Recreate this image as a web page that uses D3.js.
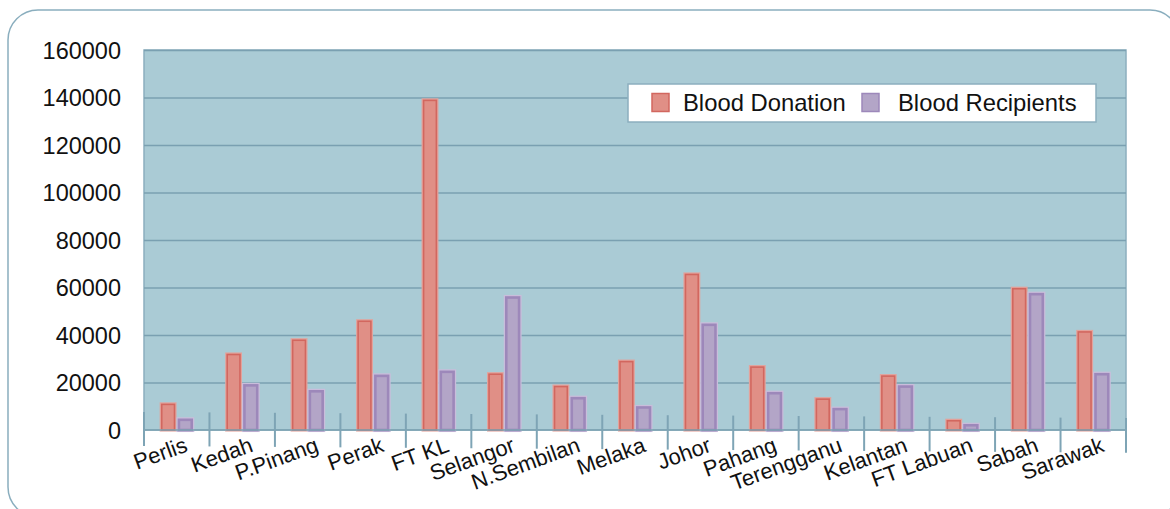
<!DOCTYPE html>
<html>
<head>
<meta charset="utf-8">
<script src="https://cdn.jsdelivr.net/npm/d3@7"></script>
<style>
  html, body { margin: 0; padding: 0; background: #ffffff; overflow: hidden; }
  svg { display: block; font-family: "Liberation Sans", Arial, sans-serif; }
</style>
</head>
<body>
<svg id="chart" width="1170" height="509"></svg>
<script>
const categories = ["Perlis", "Kedah", "P.Pinang", "Perak", "FT KL", "Selangor", "N.Sembilan", "Melaka", "Johor", "Pahang", "Terengganu", "Kelantan", "FT Labuan", "Sabah", "Sarawak"];
const donation = [11000, 32000, 38000, 46000, 139000, 23700, 18500, 29000, 65700, 26700, 13200, 22900, 4100, 59700, 41500];
const recipients = [4500, 19000, 16500, 23000, 24700, 56000, 13600, 9700, 44500, 15700, 9000, 18500, 2200, 57400, 23700];
const seriesNames = ["Blood Donation", "Blood Recipients"];
const yTicks = [0, 20000, 40000, 60000, 80000, 100000, 120000, 140000, 160000];

const svg = d3.select("#chart");
const pLeft = 144, pRight = 1126, pTop = 50, pBottom = 430;

// outer rounded frame
svg.append("rect")
  .attr("x", 8).attr("y", 10).attr("width", 1172).attr("height", 507)
  .attr("rx", 30).attr("ry", 30)
  .attr("fill", "none").attr("stroke", "#8aaebe").attr("stroke-width", 1.5);

const x = d3.scaleBand().domain(categories).range([pLeft, pRight]).paddingInner(0).paddingOuter(0);
const x1 = d3.scaleBand().domain(seriesNames).range([0, x.bandwidth()]).paddingInner(0.2).paddingOuter(1.0);
const y = d3.scaleLinear().domain([0, 160000]).range([pBottom, pTop]);

// plot background
svg.append("rect")
  .attr("x", pLeft).attr("y", pTop).attr("width", pRight - pLeft).attr("height", pBottom - pTop)
  .attr("fill", "#aacbd5").attr("stroke", "#8cafbe").attr("stroke-width", 1.5);

// gridlines
const grid = svg.append("g").attr("transform", `translate(${pLeft},0)`)
  .call(d3.axisLeft(y).tickValues(yTicks.filter(d => d > 0)).tickSize(-(pRight - pLeft)).tickFormat(""));
grid.select(".domain").remove();
grid.selectAll("line").attr("stroke", "#7aa0b1").attr("stroke-width", 1.6);

// y labels
const yAx = svg.append("g").attr("transform", `translate(121,0)`)
  .call(d3.axisLeft(y).tickValues(yTicks).tickSize(0).tickPadding(0).tickFormat(d3.format("d")));
yAx.select(".domain").remove();
yAx.selectAll("text")
  .attr("font-size", "23.5px").attr("fill", "#111").attr("font-family", "Liberation Sans, Arial, sans-serif")
  .attr("dy", "0.36em");

// bars
const data = categories.map((c, i) => ({ c, vals: [donation[i], recipients[i]] }));
const fills = ["#e08f86", "#b3a5c7"];
const strokes = ["#d2675f", "#9d88ba"];
const halo = ["#e3a29b", "#c9bddb"];
const sw = [1.6, 2.6];

const groups = svg.append("g").selectAll("g").data(data).join("g")
  .attr("transform", d => `translate(${x(d.c)},0)`);

seriesNames.forEach((s, k) => {
  groups.append("rect")
    .attr("x", d => x1(s)).attr("width", x1.bandwidth())
    .attr("y", d => y(d.vals[k])).attr("height", d => y(0) - y(d.vals[k]))
    .attr("fill", "none").attr("stroke", halo[k]).attr("stroke-width", sw[k] + 1.5);
  groups.append("rect")
    .attr("x", d => x1(s) + 0.5).attr("width", x1.bandwidth() - 1)
    .attr("y", d => y(d.vals[k]) + 0.5).attr("height", d => y(0) - y(d.vals[k]) - 0.5)
    .attr("fill", fills[k]).attr("stroke", strokes[k]).attr("stroke-width", sw[k]);
});

// zero line
svg.append("line")
  .attr("x1", pLeft).attr("x2", pRight).attr("y1", y(0)).attr("y2", y(0))
  .attr("stroke", "#7aa0b1").attr("stroke-width", 1.6);

// category separator ticks
const boundaries = categories.map(c => x(c)).concat([pRight]);
svg.append("g").selectAll("line").data(boundaries).join("line")
  .attr("x1", d => d).attr("x2", d => d)
  .attr("y1", (d, i) => 412 + i * 0.4).attr("y2", (d, i) => 446 + i * 0.45)
  .attr("stroke", "#7ea4b5").attr("stroke-width", 2);

// x labels
svg.append("g").selectAll("text").data(categories).join("text")
  .attr("transform", d => `translate(${x(d) + x.bandwidth() / 2 + 12},451) rotate(-20)`)
  .attr("text-anchor", "end")
  .attr("font-size", "22px").attr("fill", "#111")
  .text(d => d);

// legend
const lg = svg.append("g");
lg.append("rect").attr("x", 628).attr("y", 84).attr("width", 468).attr("height", 38)
  .attr("fill", "#ffffff").attr("stroke", "#8cafbe").attr("stroke-width", 1.5);
const legendX = [652, 862];
const legendTextX = [683, 898];
seriesNames.forEach((s, k) => {
  lg.append("rect").attr("x", legendX[k]).attr("y", 93.5).attr("width", 17).attr("height", 18)
    .attr("fill", fills[k]).attr("stroke", strokes[k]).attr("stroke-width", 1.5);
  lg.append("text").attr("x", legendTextX[k]).attr("y", 110.5)
    .attr("font-size", "23.8px").attr("fill", "#111").text(s);
});
</script>
</body>
</html>
